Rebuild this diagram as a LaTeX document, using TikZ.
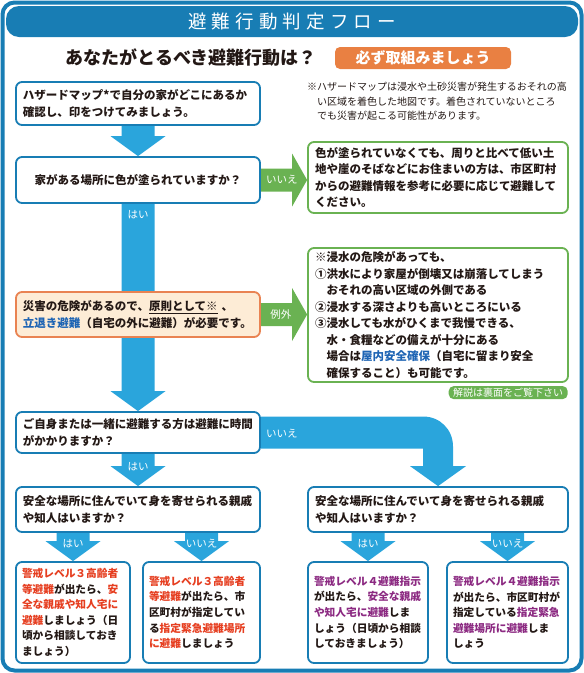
\documentclass[tikz,border=0pt]{standalone}
\usepackage{fontspec}
\setmainfont{Noto Sans CJK JP}
\usepackage{xcolor}
\usepackage{tikz}
\usetikzlibrary{positioning, calc, backgrounds}

\definecolor{frameblue}{RGB}{24,125,180}
\definecolor{arrowblue}{RGB}{42,165,220}
\definecolor{okgreen}{RGB}{106,178,82}
\definecolor{warnorange}{RGB}{233,131,82}
\definecolor{warnfill}{RGB}{253,236,214}
\definecolor{pillorange}{RGB}{233,128,66}
\definecolor{ink}{RGB}{35,24,21}
\definecolor{alertred}{RGB}{230,62,32}
\definecolor{alertpurple}{RGB}{140,42,130}
\definecolor{linkblue}{RGB}{30,100,180}

\newcommand{\boxtxt}{\bfseries\fontsize{11.5}{16.5}\selectfont}
\newcommand{\lvltxt}{\bfseries\fontsize{10.7}{15.6}\selectfont}
\newcommand{\notetxt}{\fontsize{10}{14.5}\selectfont}
\newcommand{\tagtxt}{\fontsize{10.5}{12}\selectfont}
\newcommand{\redtxt}[1]{\textcolor{alertred}{#1}}
\newcommand{\purtxt}[1]{\textcolor{alertpurple}{#1}}
\newcommand{\bluetxt}[1]{\textcolor{linkblue}{#1}}

\begin{document}
\begin{tikzpicture}[
    x=1pt, y=-1pt,
    box/.style={rounded corners=6pt, line width=1.8pt, fill=white, text=ink, font=\boxtxt, inner xsep=7pt, inner ysep=3pt, align=left},
    qbox/.style={box, draw=frameblue},
    gbox/.style={box, draw=okgreen},
    obox/.style={box, draw=warnorange, fill=warnfill},
    lvlbox/.style={qbox, font=\lvltxt, inner xsep=6pt, minimum height=101pt},
    arrowtag/.style={text=white, font=\tagtxt, inner sep=0pt},
    blockdown/.style={to path={let \p1=(\tikztostart), \p2=(\tikztotarget) in
        (\x1-16.5pt,\y1) -- (\x1-16.5pt,\y2+20pt) -- (\x1-27.5pt,\y2+20pt) -- (\x1,\y2)
        -- (\x1+27.5pt,\y2+20pt) -- (\x1+16.5pt,\y2+20pt) -- (\x1+16.5pt,\y1) -- cycle}},
    blockright/.style={to path={let \p1=(\tikztostart), \p2=(\tikztotarget) in
        (\x1,\y1+11.5pt) -- (\x2-15pt,\y1+11.5pt) -- (\x2-15pt,\y1+26.5pt) -- (\x2,\y1)
        -- (\x2-15pt,\y1-26.5pt) -- (\x2-15pt,\y1-11.5pt) -- (\x1,\y1-11.5pt) -- cycle}},
    blockbend/.style={to path={let \p1=(\tikztostart), \p2=(\tikztotarget) in
        (\x1,\y1+16pt) -- (\x2-15pt,\y1+16pt)
        .. controls (\x2+2pt,\y1+16pt) and (\x2+15pt,\y1+3pt) .. (\x2+15pt,\y1-14pt)
        -- (\x2+15pt,\y2+20pt) -- (\x2+28pt,\y2+20pt) -- (\x2,\y2) -- (\x2-28pt,\y2+20pt)
        -- (\x2-15pt,\y2+20pt) -- (\x2-15pt,\y1-16pt) -- (\x1,\y1-16pt) -- cycle}}
]
\useasboundingbox (0,0) rectangle (584,673);

% Frame and heading
\draw[frameblue, line width=4pt, rounded corners=12pt] (2.5,2.5) rectangle (581.5,670.5);
\node[fill=frameblue, rounded corners=13pt, minimum width=572pt, minimum height=31pt, text=white,
      font=\fontsize{18.5}{20}\selectfont\addfontfeature{LetterSpace=28}] (title) at (292,21.5) {避難行動判定フロー};
\node[text=ink, font=\bfseries\fontsize{18}{20}\selectfont] (subtitle) at (191,58) {あなたがとるべき避難行動は？};
\node[fill=pillorange, rounded corners=5pt, minimum width=176pt, minimum height=22pt, text=white,
      font=\bfseries\fontsize{15}{17}\selectfont] (mustdo) at (423,58) {必ず取組みましょう};

% Hazard map check
\node[qbox, text width=230pt, minimum height=43pt] (hazard) at (138,103.5)
    {ハザードマップ*で自分の家がどこにあるか\\確認し、印をつけてみましょう。};
\node[text=ink, font=\notetxt, text width=262pt, inner sep=0pt, align=left] (hazardnote) at (438,101.5)
    {※ハザードマップは浸水や土砂災害が発生するおそれの高\\
     　い区域を着色した地図です。着色されていないところ\\
     　でも災害が起こる可能性があります。};
\node[qbox, text width=230pt, minimum height=46pt, align=center] (colorq) at (138,180)
    {家がある場所に色が塗られていますか？};
\node[gbox, text width=246pt, minimum height=71pt] (nocolor) at (438,177.5)
    {色が塗られていなくても、周りと比べて低い土\\
     地や崖のそばなどにお住まいの方は、市区町村\\
     からの避難情報を参考に必要に応じて避難して\\
     ください。};

% Evacuation rule and exceptions
\node[obox, text width=230pt, minimum height=45pt] (evac) at (138,314.5)
    {災害の危険があるので、\underline{原則として※} 、\\
     \bluetxt{立退き避難}（自宅の外に避難）が必要です。};
\node[gbox, text width=246pt, minimum height=134pt] (except) at (438,315)
    {※浸水の危険があっても、\\
     ①洪水により家屋が倒壊又は崩落してしまう\\
     　おそれの高い区域の外側である\\
     ②浸水する深さよりも高いところにいる\\
     ③浸水しても水がひくまで我慢できる、\\
     　水・食糧などの備えが十分にある\\
     　場合は\bluetxt{屋内安全確保}（自宅に留まり安全\\
     　確保すること）も可能です。};
\node[fill=okgreen, rounded corners=5pt, text=white, font=\fontsize{10}{11}\selectfont,
      minimum width=119pt, minimum height=13pt, inner sep=1pt, anchor=north east] (backpill)
      at ([xshift=-1pt,yshift=-3pt]except.south east) {解説は裏面をご覧下さい};

% Time question
\node[qbox, text width=230pt, minimum height=41pt] (timeq) at (138,432.5)
    {ご自身または一緒に避難する方は避難に時間\\がかかりますか？};
\node[qbox, text width=230pt, minimum height=45pt] (safeL) at (138,509.5)
    {安全な場所に住んでいて身を寄せられる親戚\\や知人はいますか？};
\node[qbox, text width=246pt, minimum height=45pt] (safeR) at (438,509.5)
    {安全な場所に住んでいて身を寄せられる親戚\\や知人はいますか？};

% Outcomes
\node[lvlbox, text width=102pt] (lvl3home) at (73,612.5)
    {\redtxt{警戒レベル３高齢者}\\
     \redtxt{等避難}が出たら、\redtxt{安}\\
     \redtxt{全な親戚や知人宅に}\\
     \redtxt{避難}しましょう（日\\
     頃から相談しておき\\
     ましょう）};
\node[lvlbox, text width=105pt] (lvl3shelter) at (201.5,612.5)
    {\redtxt{警戒レベル３高齢者}\\
     \redtxt{等避難}が出たら、市\\
     区町村が指定してい\\
     る\redtxt{指定緊急避難場所}\\
     \redtxt{に避難}しましょう};
\node[lvlbox, text width=108pt] (lvl4home) at (368,612.5)
    {\purtxt{警戒レベル４避難指示}\\
     が出たら、\purtxt{安全な親戚}\\
     \purtxt{や知人宅に避難}しま\\
     しょう（日頃から相談\\
     しておきましょう）};
\node[lvlbox, text width=109pt] (lvl4shelter) at (507.5,612.5)
    {\purtxt{警戒レベル４避難指示}\\
     が出たら、市区町村が\\
     指定している\purtxt{指定緊急}\\
     \purtxt{避難場所に避難}しま\\
     しょう};

% Block arrows
\begin{scope}[on background layer]
\fill[arrowblue] (hazard.south) to[blockdown] (colorq.north);
\fill[arrowblue] (colorq.south) to[blockdown] (timeq.north);
\fill[arrowblue] (timeq.south) to[blockdown] (safeL.north);
\fill[arrowblue] (timeq.east) to[blockbend] (safeR.north);
\fill[okgreen] (colorq.east) to[blockright] (colorq.east -| nocolor.west);
\fill[okgreen] (evac.east) to[blockright] (evac.east -| except.west);
\foreach \q/\a in {safeL/lvl3home, safeL/lvl3shelter, safeR/lvl4home, safeR/lvl4shelter}
    \fill[arrowblue] (\q.south -| \a.north) to[blockdown] (\a.north);
\end{scope}

% Arrow labels
\node[arrowtag] (yes1) at ([yshift=-11pt]colorq.south) {はい};
\node[arrowtag] (no1) at ([xshift=21pt]colorq.east) {いいえ};
\node[arrowtag] (exc1) at ([xshift=20pt]evac.east) {例外};
\node[arrowtag] (yes2) at ([yshift=-13pt]timeq.south) {はい};
\node[arrowtag] (no2) at ([xshift=21pt,yshift=-1pt]timeq.east) {いいえ};
\foreach \q/\a/\t in {safeL/lvl3home/はい, safeL/lvl3shelter/いいえ, safeR/lvl4home/はい, safeR/lvl4shelter/いいえ}
    \node[arrowtag] (tag\a) at ($(\q.south -| \a.north)+(0,11)$) {\t};

\end{tikzpicture}
\end{document}
